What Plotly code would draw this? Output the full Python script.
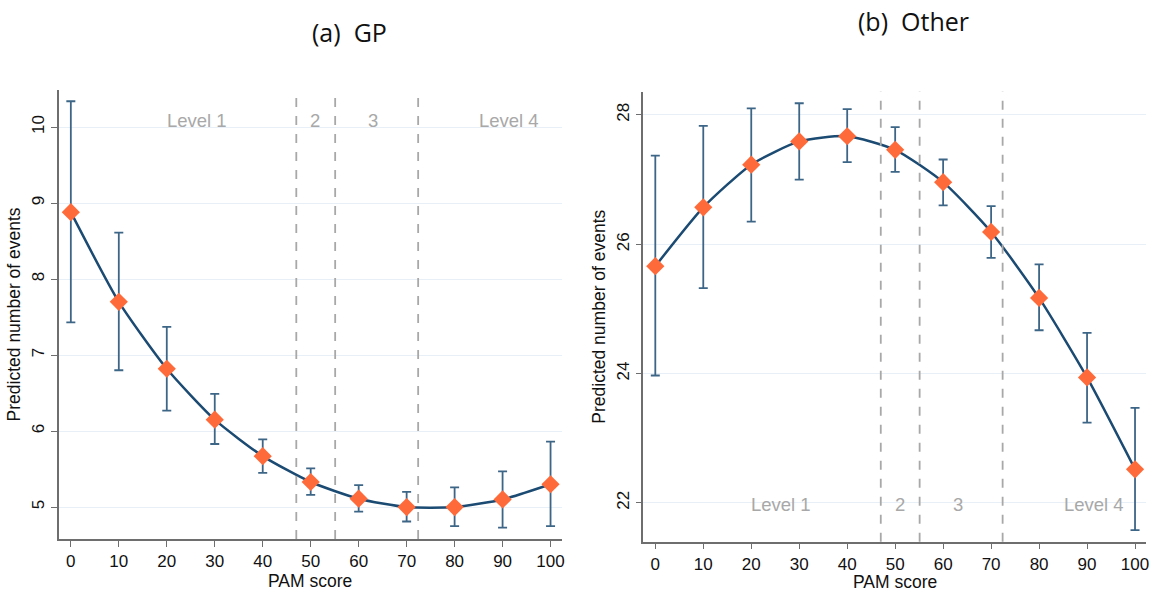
import plotly.graph_objects as go

pam = [0, 10, 20, 30, 40, 50, 60, 70, 80, 90, 100]

gp_pred = [8.88, 7.70, 6.82, 6.15, 5.67, 5.33, 5.11, 5.00, 5.00, 5.10, 5.30]
gp_upper = [10.34, 8.61, 7.37, 6.49, 5.89, 5.51, 5.29, 5.20, 5.26, 5.47, 5.86]
gp_lower = [7.43, 6.80, 6.27, 5.83, 5.45, 5.16, 4.94, 4.81, 4.75, 4.73, 4.75]

oth_pred = [25.66, 26.57, 27.23, 27.59, 27.67, 27.46, 26.96, 26.19, 25.17, 23.94, 22.52]
oth_upper = [27.37, 27.83, 28.10, 28.18, 28.09, 27.81, 27.31, 26.59, 25.69, 24.63, 23.47]
oth_lower = [23.97, 25.32, 26.35, 27.00, 27.27, 27.12, 26.60, 25.79, 24.67, 23.24, 21.58]

level_cuts = [47.0, 55.1, 72.4]
level_labels = ["Level 1", "2", "3", "Level 4"]
level_label_x = [26.3, 51.0, 63.0, 91.4]

x_ticks = [0, 10, 20, 30, 40, 50, 60, 70, 80, 90, 100]
gp_yticks = [5, 6, 7, 8, 9, 10]
oth_yticks = [22, 24, 26, 28]

LINE = "#1b4a72"
ERR = "#3d6586"
MARK = "#ff6a3a"
AXC = "#6e6e6e"
GRID = "#e9eff6"
LVL = "#a8a8a8"

fig = go.Figure()

def add_panel(xa, ya, pred, up, lo):
    fig.add_trace(go.Scatter(
        x=pam, y=pred, xaxis=xa, yaxis=ya, mode="lines",
        line=dict(color=LINE, width=2.5, shape="spline", smoothing=0.6),
        hoverinfo="skip", showlegend=False))
    fig.add_trace(go.Scatter(
        x=pam, y=pred, xaxis=xa, yaxis=ya, mode="markers",
        marker=dict(symbol="diamond", size=14, color=MARK),
        error_y=dict(type="data", symmetric=False,
                     array=[u - p for u, p in zip(up, pred)],
                     arrayminus=[p - l for p, l in zip(pred, lo)],
                     color=ERR, thickness=1.8, width=4.5),
        showlegend=False))

add_panel("x", "y", gp_pred, gp_upper, gp_lower)
add_panel("x2", "y2", oth_pred, oth_upper, oth_lower)

FONT = "Liberation Sans, Arial"
tickfont = dict(family=FONT, size=17, color="#111111")
common_x = dict(range=[-2.5, 102.3], tickvals=x_ticks, showgrid=False,
                showline=True, linecolor=AXC, linewidth=1.5, ticks="outside",
                ticklen=6, tickcolor=AXC, tickwidth=1.2, tickfont=tickfont,
                zeroline=False)
common_y = dict(showgrid=True, gridcolor=GRID, gridwidth=1.2,
                showline=True, linecolor=AXC, linewidth=1.5, ticks="outside",
                ticklen=6, tickcolor=AXC, tickwidth=1.2, tickfont=tickfont,
                tickangle=-90, zeroline=False,
                title=dict(text="Predicted number of events", standoff=4,
                           font=dict(family=FONT, size=17.5, color="#111111")))

fig.update_layout(
    width=1159, height=591,
    margin=dict(l=0, r=0, t=0, b=0),
    paper_bgcolor="white", plot_bgcolor="white",
    xaxis=dict(domain=[0.0509, 0.4858], anchor="y", **common_x),
    yaxis=dict(domain=[0.088, 0.848], anchor="x", range=[4.58, 10.49],
               tickvals=gp_yticks, **common_y),
    xaxis2=dict(domain=[0.5565, 0.9914], anchor="y2", **common_x),
    yaxis2=dict(domain=[0.0834, 0.845], anchor="x2", range=[21.40, 28.36],
                tickvals=oth_yticks, **common_y),
)

shapes = []
annotations = []
for xr, yr, ylab in [("x", "y", 10.08), ("x2", "y2", 21.98)]:
    for c in level_cuts:
        shapes.append(dict(type="line", xref=xr, yref=yr + " domain",
                           x0=c, x1=c, y0=0, y1=1,
                           line=dict(color=LVL, width=1.8, dash="dash")))
    for lab, lx in zip(level_labels, level_label_x):
        annotations.append(dict(x=lx, y=ylab, xref=xr, yref=yr, text=lab,
                                showarrow=False,
                                font=dict(family=FONT, size=18.5, color=LVL)))

# x-axis titles
for cx, cy in [(311, 581), (897, 582)]:
    annotations.append(dict(x=cx / 1159, y=1 - cy / 591, xref="paper", yref="paper",
                            xanchor="center", yanchor="middle",
                            text="PAM score", showarrow=False,
                            font=dict(family=FONT, size=17.5, color="#111111")))

annotations.append(dict(x=350 / 1159, y=1 - 32 / 591, xref="paper", yref="paper",
                        xanchor="center", yanchor="middle",
                        text="(a)  GP", showarrow=False,
                        font=dict(family="Open Sans", size=25, color="#111111")))
annotations.append(dict(x=916 / 1159, y=1 - 21 / 591, xref="paper", yref="paper",
                        xanchor="center", yanchor="middle",
                        text="(b)  Other", showarrow=False,
                        font=dict(family="Open Sans", size=25, color="#111111")))

fig.update_layout(shapes=shapes, annotations=annotations)

fig.write_html("out.html")
